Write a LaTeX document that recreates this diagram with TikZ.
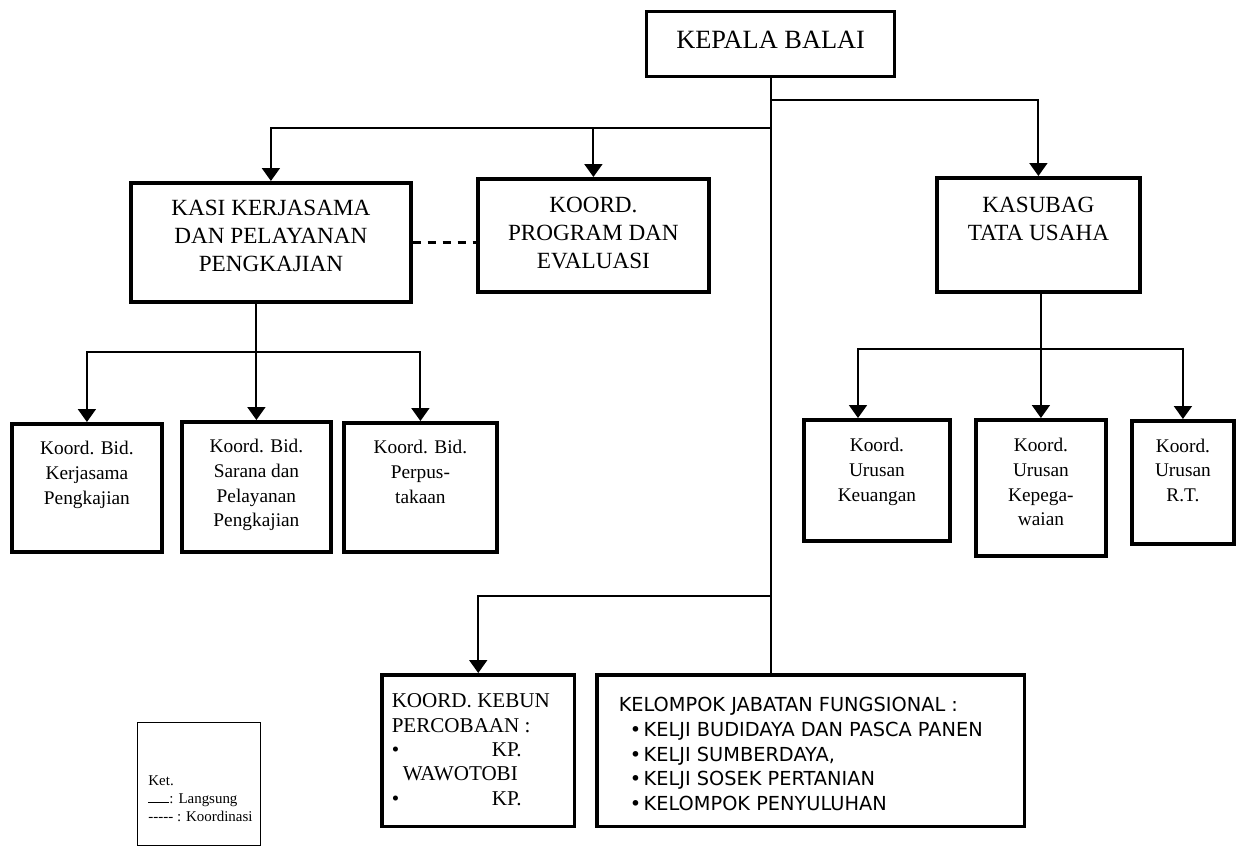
\documentclass[tikz,border=0pt]{standalone}
\usepackage{fontspec}
\setmainfont{Liberation Serif}
\newfontfamily\tahoma{DejaVu Sans}
\usetikzlibrary{arrows.meta}

% font sizes
\newcommand{\fbig}{\fontsize{15}{18}\selectfont}
\newcommand{\fmid}{\fontsize{13.2}{15.9}\selectfont}
\newcommand{\fsmall}{\fontsize{11}{14}\selectfont}
\newcommand{\fkebun}{\fontsize{12}{13.9}\selectfont}
\newcommand{\fket}{\fontsize{8.5}{10.2}\selectfont}
% box text: [gap]{width}{height}{text}
\newcommand{\isi}[4][0.35cm]{\parbox[c][#3][t]{#2}{\vspace*{#1}#4}}

\tikzset{
  box/.style={draw, line width=2.2pt, inner sep=0pt, anchor=north west},
  conn/.style={line width=1.1pt},
  arr/.style={conn, -{Triangle[length=0.26cm,width=0.36cm]}},
  koord/.style={line width=1.6pt, dash pattern=on 4.5pt off 4pt},
}

\begin{document}
\begin{tikzpicture}[x=0.02cm, y=-0.02cm]
  \useasboundingbox (0,0) rectangle (1241,848);

  % top
  \node[box, line width=1.9pt, font=\fbig] (kepala) at (645,10)
    {\isi[0.38cm]{4.96cm}{1.30cm}{\centering KEPALA BALAI}};

  % second level
  \node[box, font=\fmid] (kasi) at (129,181)
    {\isi[0.34cm]{5.60cm}{2.38cm}{\centering KASI KERJASAMA\\DAN PELAYANAN\\PENGKAJIAN}};
  \node[box, font=\fmid] (program) at (476,177)
    {\isi[0.36cm]{4.62cm}{2.26cm}{\centering KOORD.\\PROGRAM DAN\\EVALUASI}};
  \node[box, font=\fmid] (kasubag) at (935,176)
    {\isi[0.38cm]{4.06cm}{2.28cm}{\centering KASUBAG\\TATA USAHA}};

  % under kasi
  \node[box, font=\fsmall] (b1) at (10,422)
    {\isi{3.00cm}{2.56cm}{\centering Koord. Bid.\\Kerjasama\\Pengkajian}};
  \node[box, font=\fsmall] (b2) at (180,420)
    {\isi{2.98cm}{2.60cm}{\centering Koord. Bid.\\Sarana dan\\Pelayanan\\Pengkajian}};
  \node[box, font=\fsmall] (b3) at (342,421)
    {\isi{3.06cm}{2.58cm}{\centering Koord. Bid.\\Perpus-\\takaan}};

  % under kasubag
  \node[box, font=\fsmall] (ba) at (802,418)
    {\isi[0.37cm]{2.92cm}{2.42cm}{\centering Koord.\\Urusan\\Keuangan}};
  \node[box, font=\fsmall] (bb) at (974,418)
    {\isi[0.37cm]{2.60cm}{2.72cm}{\centering Koord.\\Urusan\\Kepega-\\waian}};
  \node[box, font=\fsmall] (bc) at (1130,419)
    {\isi[0.36cm]{2.04cm}{2.46cm}{\centering Koord.\\Urusan\\R.T.}};

  % bottom
  \node[box, line width=2pt, font=\fkebun] (kebun) at (380,673)
    {\isi[0.38cm]{3.86cm}{3.04cm}{\raggedright\leftskip=0.2cm
      KOORD. KEBUN\\PERCOBAAN :\\
      \makebox[2.6cm][l]{\textbullet\hfill KP.}\\
      \hspace*{0.22cm}WAWOTOBI\\
      \makebox[2.6cm][l]{\textbullet\hfill KP.}}};
  \node[box, line width=2pt, font=\tahoma\fontsize{11}{14.2}\selectfont] (kelompok) at (595,673)
    {\isi[0.44cm]{8.56cm}{3.04cm}{\raggedright\leftskip=0.44cm
      KELOMPOK JABATAN FUNGSIONAL :\\
      \hspace*{0.22cm}\makebox[0.28cm][l]{\textbullet}KELJI BUDIDAYA DAN PASCA PANEN\\
      \hspace*{0.22cm}\makebox[0.28cm][l]{\textbullet}KELJI SUMBERDAYA,\\
      \hspace*{0.22cm}\makebox[0.28cm][l]{\textbullet}KELJI SOSEK PERTANIAN\\
      \hspace*{0.22cm}\makebox[0.28cm][l]{\textbullet}KELOMPOK PENYULUHAN}};

  % legend
  \node[box, line width=0.5pt, font=\fket] (ket) at (137,722)
    {\isi[1.06cm]{2.46cm}{2.46cm}{\raggedright\leftskip=0.22cm
      Ket.\\\rule{0.42cm}{0.5pt}: Langsung\\{-}{-}{-}{-}{-} : Koordinasi}};

  % lines
  \draw[conn] (kepala.south) -- (kepala.south |- kelompok.north);
  \draw[arr] (kepala.south |- 0,100) -| (kasubag.north);
  \draw[arr] (kepala.south |- 0,128) -| (kasi.north);
  \draw[arr] (program.north |- 0,128) -- (program.north);
  \draw[arr] (kepala.south |- 0,596) -| (kebun.north);
  \draw[koord] (kasi.east) -- (kasi.east -| program.west);

  \draw[arr] (b2.north |- kasi.south) -- (b2.north);
  \draw[arr] (b2.north |- 0,352) -| (b1.north);
  \draw[arr] (b2.north |- 0,352) -| (b3.north);

  \draw[arr] (bb.north |- kasubag.south) -- (bb.north);
  \draw[arr] (bb.north |- 0,349) -| (858,0 |- ba.north);
  \draw[arr] (bb.north |- 0,349) -| (bc.north);
\end{tikzpicture}
\end{document}
